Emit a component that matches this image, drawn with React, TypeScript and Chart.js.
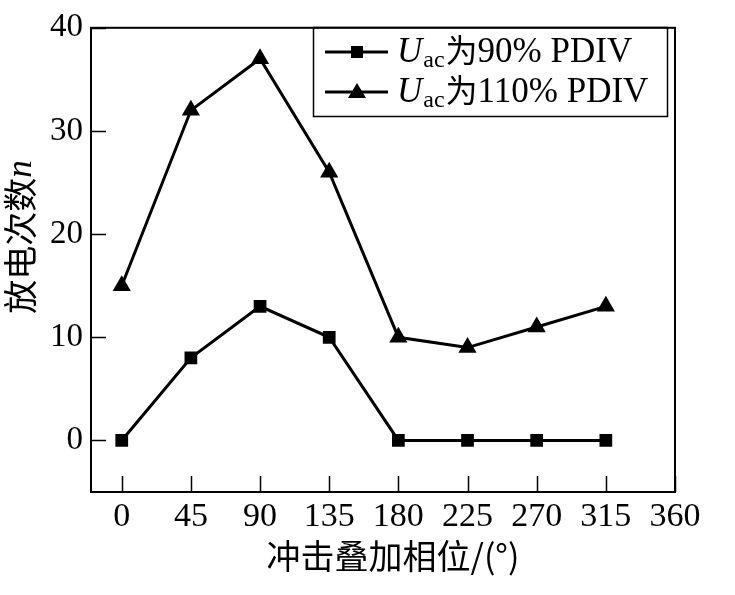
import React, { useEffect, useRef } from "react";
import { Chart, registerables } from "chart.js";

Chart.register(...registerables);

const phases = [0, 45, 90, 135, 180, 225, 270, 315];
const n90 = [0, 8, 13, 10, 0, 0, 0, 0];
const n110 = [15, 32, 37, 26, 10, 9, 11, 13];
const xTicks = [0, 45, 90, 135, 180, 225, 270, 315, 360];
const yTicks = [0, 10, 20, 30, 40];
const legendLabels = ["90% PDIV", "110% PDIV"];
const xTitle = "冲击叠加相位/(°)";
const yTitle = "放电次数";

const SERIF = "'Liberation Serif', 'Times New Roman', serif";
const CJK = "'Noto Sans CJK SC', sans-serif";

const framePlugin = {
  id: "frame",
  afterDraw(chart: any) {
    const { ctx, chartArea } = chart;
    const { left, right, top, bottom } = chartArea;
    const xs = chart.scales.x;
    const ys = chart.scales.y;
    ctx.save();
    ctx.strokeStyle = "#000";
    ctx.lineWidth = 2;
    ctx.strokeRect(left, top, right - left, bottom - top);
    // inward ticks
    ctx.lineWidth = 1.5;
    ctx.beginPath();
    xTicks.forEach((v) => {
      const px = Math.round(xs.getPixelForValue(v)) + 0.5;
      ctx.moveTo(px, bottom);
      ctx.lineTo(px, bottom - 16);
    });
    yTicks.forEach((v) => {
      const py = Math.round(ys.getPixelForValue(v)) + 0.5;
      ctx.moveTo(left, py);
      ctx.lineTo(left + 15, py);
    });
    ctx.stroke();

    // legend
    ctx.lineWidth = 1.5;
    ctx.strokeRect(313.5, 27.5, 354, 89);
    const rows = [52, 92];
    rows.forEach((cy, i) => {
      ctx.lineWidth = 3;
      ctx.beginPath();
      ctx.moveTo(325, cy);
      ctx.lineTo(388, cy);
      ctx.stroke();
      ctx.fillStyle = "#000";
      if (i === 0) {
        ctx.fillRect(357 - 6, cy - 6, 12, 12);
      } else {
        ctx.beginPath();
        ctx.moveTo(357, cy - 9);
        ctx.lineTo(366, cy + 6);
        ctx.lineTo(348, cy + 6);
        ctx.closePath();
        ctx.fill();
      }
      const base = cy + 10;
      let x = 397;
      ctx.textBaseline = "alphabetic";
      ctx.textAlign = "left";
      ctx.font = `italic 35px ${SERIF}`;
      ctx.fillText("U", x, base);
      x += ctx.measureText("U").width + 1;
      ctx.font = `24px ${SERIF}`;
      ctx.fillText("ac", x, base + 5);
      x += ctx.measureText("ac").width + 1;
      ctx.font = `32px ${CJK}`;
      ctx.fillText("为", x, base);
      x += ctx.measureText("为").width;
      ctx.font = `35px ${SERIF}`;
      ctx.fillText(legendLabels[i], x, base);
    });

    // x title
    ctx.fillStyle = "#000";
    ctx.font = `34px ${CJK}`;
    ctx.textAlign = "center";
    ctx.textBaseline = "middle";
    ctx.fillText(xTitle, 393, 556);

    // y title
    ctx.save();
    ctx.translate(20, 237);
    ctx.rotate(-Math.PI / 2);
    ctx.font = `34px ${CJK}`;
    const w1 = ctx.measureText(yTitle).width;
    ctx.font = `italic 35px ${SERIF}`;
    const w2 = ctx.measureText("n").width;
    let sx = -(w1 + w2) / 2;
    ctx.textAlign = "left";
    ctx.textBaseline = "middle";
    ctx.font = `34px ${CJK}`;
    ctx.fillText(yTitle, sx, 0);
    ctx.font = `italic 35px ${SERIF}`;
    ctx.textBaseline = "alphabetic";
    ctx.fillText("n", sx + w1, 11);
    ctx.restore();

    ctx.restore();
  },
};

export default function App() {
  const ref = useRef<HTMLCanvasElement | null>(null);
  useEffect(() => {
    document.body.style.margin = "0";
    const canvas = ref.current!;
    const chart = new Chart(canvas, {
      type: "line",
      data: {
        datasets: [
          {
            label: "90",
            data: phases.map((p, i) => ({ x: p, y: n90[i] })),
            borderColor: "#000",
            backgroundColor: "#000",
            borderWidth: 3,
            pointStyle: "rect",
            pointRadius: 9,
            pointBorderWidth: 0,
            tension: 0,
          },
          {
            label: "110",
            data: phases.map((p, i) => ({ x: p, y: n110[i] })),
            borderColor: "#000",
            backgroundColor: "#000",
            borderWidth: 3,
            pointStyle: "triangle",
            pointRadius: 10.5,
            pointBorderWidth: 0,
            tension: 0,
          },
        ],
      },
      options: {
        animation: false,
        responsive: false,
        devicePixelRatio: 1,
        layout: { padding: { top: 19, right: 60, left: 0, bottom: 0 } },
        plugins: { legend: { display: false }, tooltip: { enabled: false } },
        scales: {
          x: {
            type: "linear",
            min: -20,
            max: 360,
            afterBuildTicks: (s: any) => {
              s.ticks = xTicks.map((v) => ({ value: v }));
            },
            afterFit: (s: any) => {
              s.height = 103;
            },
            grid: { display: false, drawTicks: false },
            border: { display: false },
            ticks: {
              color: "#000",
              font: { family: SERIF, size: 34 },
              padding: 5,
              maxRotation: 0,
              autoSkip: false,
            },
          },
          y: {
            type: "linear",
            min: -5,
            max: 40,
            afterBuildTicks: (s: any) => {
              s.ticks = yTicks.map((v) => ({ value: v }));
            },
            afterFit: (s: any) => {
              s.width = 91;
            },
            grid: { display: false, drawTicks: false },
            border: { display: false },
            ticks: {
              color: "#000",
              font: { family: SERIF, size: 33 },
              padding: 8,
            },
          },
        },
      },
      plugins: [framePlugin],
    } as any);
    return () => chart.destroy();
  }, []);
  return <canvas ref={ref} width={735} height={595} style={{ display: "block" }} />;
}
